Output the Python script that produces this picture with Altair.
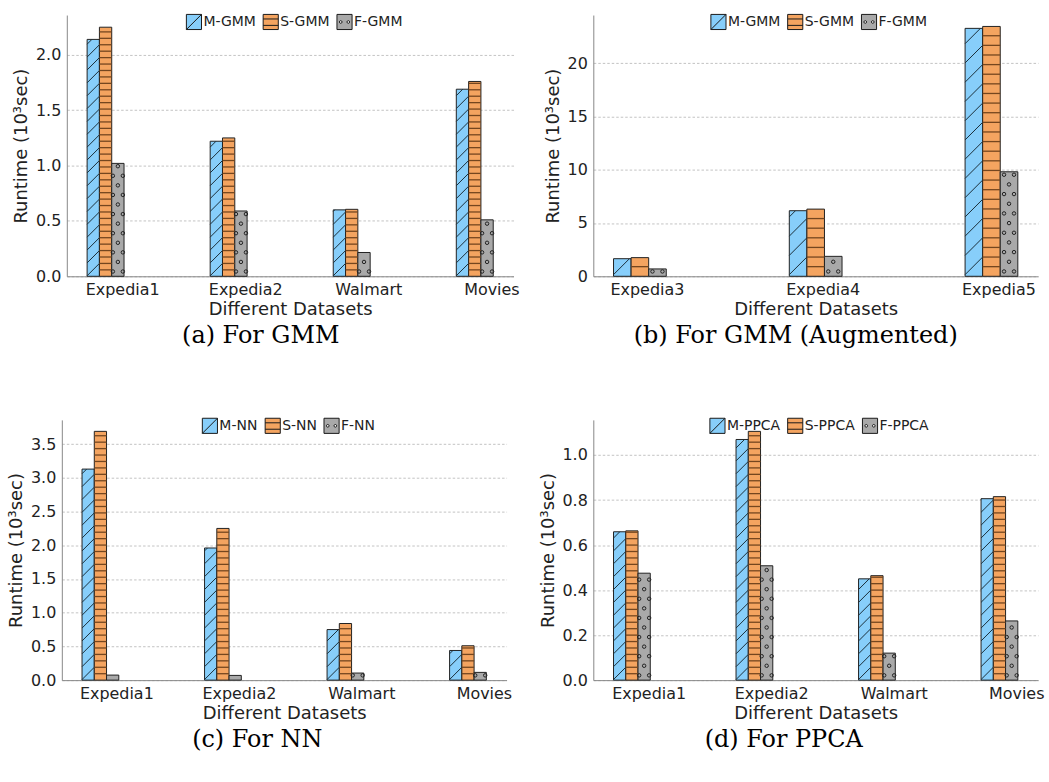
import altair as alt
import pandas as pd

# ---------------- data ----------------
cats_gmm = ["Expedia1", "Expedia2", "Walmart", "Movies"]
m_gmm = [2.14, 1.22, 0.60, 1.69]
s_gmm = [2.25, 1.25, 0.605, 1.76]
f_gmm = [1.02, 0.59, 0.215, 0.51]

cats_aug = ["Expedia3", "Expedia4", "Expedia5"]
m_aug = [1.65, 6.15, 23.25]
s_aug = [1.75, 6.30, 23.43]
f_aug = [0.69, 1.87, 9.80]

cats_nn = ["Expedia1", "Expedia2", "Walmart", "Movies"]
m_nn = [3.13, 1.96, 0.75, 0.44]
s_nn = [3.69, 2.25, 0.84, 0.51]
f_nn = [0.075, 0.07, 0.105, 0.115]

cats_ppca = ["Expedia1", "Expedia2", "Walmart", "Movies"]
m_ppca = [0.659, 1.069, 0.450, 0.806]
s_ppca = [0.663, 1.105, 0.464, 0.815]
f_ppca = [0.475, 0.508, 0.120, 0.263]

# ---------------- styles ----------------
COLORS = ["#87CEFA", "#F4A460", "#A9A9A9"]
SHAPES = [
    "M-1,-1H1V1H-1Z M-1,1L1,-1",
    "M-1,-1H1V1H-1Z M-1,-0.4H1 M-1,0.45H1",
    "M-1,-1H1V1H-1Z M-0.68,0a0.18,0.18 0 1,0 0.36,0a0.18,0.18 0 1,0 -0.36,0 "
    "M0.32,0a0.18,0.18 0 1,0 0.36,0a0.18,0.18 0 1,0 -0.36,0",
]
FONT = "DejaVu Sans"
BAR_W = 0.1


def build_panel(cats, m, s, f, names, ymax, yticks, yfmt, width, height,
                shift, tick_off, hs, ds, cs, leg_x, leg_y, caption, cap_dx):
    n = len(cats)
    span = (n - 1) + 3 * BAR_W
    lo = -BAR_W / 2 - 0.05 * span
    hi = (n - 1) + 2.5 * BAR_W + 0.05 * span
    kx = (width - shift) / (hi - lo)
    ky = height / ymax

    bars, diag, horiz, circ, leg = [], [], [], [], []
    series_vals = [m, s, f]
    for j in range(3):
        vals = series_vals[j]
        imax = max(range(n), key=lambda i: vals[i])
        leg.append(dict(series=names[j], x=imax + BAR_W * j, y=vals[imax] / 2))
    for i in range(n):
        for j in range(3):
            v = series_vals[j][i]
            c = i + BAR_W * j
            xl, xr = c - BAR_W / 2, c + BAR_W / 2
            bars.append(dict(series=names[j], j=j, x=xl, x2=xr, v=v, base=0.0))
            if j == 0:
                dy = BAR_W * kx / ky
                step = ds / ky
                k = 0
                while True:
                    y0 = k * step - dy
                    if y0 >= v:
                        break
                    tlo = max(0.0, -y0 / dy)
                    thi = min(1.0, (v - y0) / dy)
                    if thi > tlo + 0.02:
                        diag.append(dict(x=xl + BAR_W * tlo, x2=xl + BAR_W * thi,
                                         y=y0 + dy * tlo, y2=y0 + dy * thi))
                    k += 1
            elif j == 1:
                step = hs / ky
                k = 1
                while k * step < v - 1.0 / ky:
                    horiz.append(dict(x=xl, x2=xr, y=k * step))
                    k += 1
            else:
                step = cs / ky
                half_px = BAR_W / 2 * kx
                r = 0
                while (r + 0.5) * step * ky + 1.5 < v * ky:
                    offs = [-5.0, 5.0] if r % 2 == 0 else [-10.0, 0.0, 10.0]
                    for o in offs:
                        if abs(o) <= half_px - 0.5:
                            circ.append(dict(x=c + o / kx, y=(r + 0.5) * step))
                    r += 1

    df_bars = pd.DataFrame(bars)
    xs = alt.Scale(domain=[lo, hi], range=[shift, width], nice=False, zero=False)
    ys = alt.Scale(domain=[0, ymax], nice=False, zero=False)
    label_arr = "[" + ",".join("'%s'" % c for c in cats) + "]"
    xaxis = alt.Axis(values=[i + tick_off for i in range(n)],
                     labelExpr=f"{label_arr}[round(datum.value - {tick_off})]",
                     title="Different Datasets", grid=False, ticks=False,
                     labelPadding=5, titlePadding=3, labelFlush=False,
                     labelOverlap=False, labelFontSize=16, titleFontSize=18,
                     titleFontWeight="normal", labelColor="#222", titleColor="#222",
                     domainColor="#888", domainWidth=1)
    yaxis = alt.Axis(values=yticks, format=yfmt, title="Runtime (10³sec)",
                     grid=True, ticks=False, offset=-shift, labelPadding=6,
                     titlePadding=4.6, labelFontSize=16, titleFontSize=18,
                     titleFontWeight="normal", labelColor="#222", titleColor="#222",
                     domainColor="#888", domainWidth=1, gridColor="#b4b4b4",
                     gridDash=[2.5, 2], gridWidth=0.8)

    def X(field):
        return alt.X(field, type="quantitative", scale=xs, axis=xaxis)

    def Y(field):
        return alt.Y(field, type="quantitative", scale=ys, axis=yaxis)

    legend = alt.Legend(orient="none", legendX=leg_x, legendY=leg_y,
                        direction="horizontal", title=None, symbolSize=230,
                        labelFontSize=14, labelFont=FONT, labelColor="#222",
                        labelOffset=1, columnPadding=4, padding=0,
                        symbolStrokeWidth=1, symbolOpacity=1)
    leg_layer = alt.Chart(pd.DataFrame(leg)).mark_point(
        filled=True, size=8, strokeWidth=1
    ).encode(
        x=X("x"), y=Y("y"),
        fill=alt.Fill("series:N", scale=alt.Scale(domain=names, range=COLORS),
                      legend=legend, sort=names),
        shape=alt.Shape("series:N", scale=alt.Scale(domain=names, range=SHAPES),
                        legend=legend, sort=names),
        stroke=alt.Stroke("series:N",
                          scale=alt.Scale(domain=names, range=["#1a1a1a"] * 3),
                          legend=legend, sort=names),
    )
    layers = [leg_layer]
    for j in range(3):
        layers.append(
            alt.Chart(df_bars[df_bars.j == j]).mark_rect(
                fill=COLORS[j], stroke="#222", strokeWidth=1
            ).encode(x=X("x"), x2="x2", y=Y("v"), y2="base")
        )
    layers.append(alt.Chart(pd.DataFrame(diag)).mark_rule(
        color="#1b2f3a", strokeWidth=1).encode(x=X("x"), x2="x2", y=Y("y"), y2="y2"))
    layers.append(alt.Chart(pd.DataFrame(horiz)).mark_rule(
        color="#74461f", strokeWidth=1.3).encode(x=X("x"), x2="x2", y=Y("y")))
    if circ:
        layers.append(alt.Chart(pd.DataFrame(circ)).mark_point(
            shape="circle", filled=False, stroke="#222", strokeWidth=1, size=12,
            opacity=1).encode(x=X("x"), y=Y("y")))

    return alt.layer(*layers).properties(
        width=width, height=height,
        title=alt.TitleParams(caption, orient="bottom", anchor="middle",
                              frame="group", font="DejaVu Serif", fontSize=24,
                              fontWeight="normal", color="black", offset=6,
                              dx=cap_dx),
    )


pa = build_panel(cats_gmm, m_gmm, s_gmm, f_gmm, ["M-GMM", "S-GMM", "F-GMM"],
                 2.36, [0, 0.5, 1.0, 1.5, 2.0], ".1f", 453, 262, 5, 0.235,
                 6.45, 12.9, 9.6, 124, -2, "(a) For GMM", -27)
pb = build_panel(cats_aug, m_aug, s_aug, f_aug, ["M-GMM", "S-GMM", "F-GMM"],
                 24.5, [0, 5, 10, 15, 20], "d", 446, 262, 0, 0.14,
                 9.65, 19.3, 9.7, 117, -2, "(b) For GMM (Augmented)", -20)
pc = build_panel(cats_nn, m_nn, s_nn, f_nn, ["M-NN", "S-NN", "F-NN"],
                 3.86, [0, 0.5, 1.0, 1.5, 2.0, 2.5, 3.0, 3.5], ".1f", 446, 261, 0,
                 0.23, 6.45, 12.9, 9.6, 140, -3, "(c) For NN", -27)
pd_ = build_panel(cats_ppca, m_ppca, s_ppca, f_ppca, ["M-PPCA", "S-PPCA", "F-PPCA"],
                  1.156, [0, 0.2, 0.4, 0.6, 0.8, 1.0], ".1f", 446, 261, 0,
                  0.237, 6.45, 12.9, 9.6, 116, -3, "(d) For PPCA", -32)

chart = alt.concat(
    pa, pb, pc, pd_, columns=2, bounds="flush",
    spacing=alt.RowColnumber(row=144, column=80),
).resolve_scale(
    x="independent", y="independent", fill="independent", shape="independent",
    stroke="independent"
).resolve_legend(fill="independent", shape="independent",
                 stroke="independent").properties(
    padding={"left": 7, "top": 12, "right": 5, "bottom": 5},
    background="white",
).configure(font=FONT).configure_view(stroke=None)

chart.save("out.html", embed_options={"renderer": "svg", "actions": False})
